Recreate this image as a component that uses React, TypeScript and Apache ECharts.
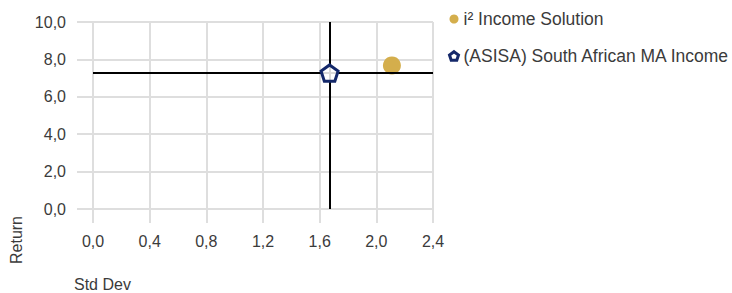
import React, { useEffect, useRef } from "react";
import * as echarts from "echarts";

const seriesNames = ["i² Income Solution", "(ASISA) South African MA Income"];
const stdDev = [2.11, 1.67];
const returns = [7.68, 7.27];
const xTicks = { min: 0, max: 2.4, interval: 0.4 };
const yTicks = { min: 0, max: 10, interval: 2 };
const crossX = 1.67;
const crossY = 7.27;

const FONT = "'Liberation Sans', Arial, sans-serif";
const TEXT = "#3b3b3b";
const GRID = "#dedede";
const GOLD = "#D4AE4C";
const NAVY = "#14286A";
const PENTAGON = "path://M50,0 L97.55,34.55 L79.39,90.45 L20.61,90.45 L2.45,34.55 Z";

const fmt = (v: number) => v.toFixed(1).replace(".", ",");

export default function App() {
  const ref = useRef<HTMLDivElement>(null);
  useEffect(() => {
    if (!ref.current) return;
    const chart = echarts.init(ref.current, undefined, { renderer: "svg" });
    chart.setOption({
      animation: false,
      backgroundColor: "#fff",
      textStyle: { fontFamily: FONT },
      grid: { left: 93, top: 22, width: 340, height: 187 },
      xAxis: {
        type: "value",
        min: xTicks.min,
        max: xTicks.max,
        interval: xTicks.interval,
        axisLine: { show: false },
        axisTick: { show: true, length: 14, lineStyle: { color: GRID, width: 2 } },
        splitLine: { show: true, lineStyle: { color: GRID, width: 2 } },
        axisLabel: { margin: 24, fontSize: 16, color: TEXT, fontFamily: FONT, formatter: fmt },
      },
      yAxis: {
        type: "value",
        min: yTicks.min,
        max: yTicks.max,
        interval: yTicks.interval,
        axisLine: { show: false },
        axisTick: { show: true, length: 16, lineStyle: { color: GRID, width: 2 } },
        splitLine: { show: true, lineStyle: { color: GRID, width: 2 } },
        axisLabel: { margin: 27, fontSize: 16, color: TEXT, fontFamily: FONT, formatter: fmt },
      },
      legend: {
        orient: "vertical",
        left: 448,
        top: 9,
        padding: 0,
        itemWidth: 9,
        itemHeight: 9,
        itemGap: 17,
        textStyle: { fontSize: 17.5, color: TEXT, fontFamily: FONT, lineHeight: 20 },
        data: [
          { name: seriesNames[0], icon: "circle", itemStyle: { color: GOLD } },
          {
            name: seriesNames[1],
            icon: PENTAGON,
            itemStyle: { color: "#fff", borderColor: NAVY, borderWidth: 3 },
          },
        ],
      },
      graphic: [
        {
          type: "text",
          x: 16,
          y: 240,
          rotation: Math.PI / 2,
          style: {
            text: "Return",
            fontSize: 16,
            fill: TEXT,
            fontFamily: FONT,
            align: "center",
            verticalAlign: "middle",
          },
        },
        {
          type: "text",
          x: 74,
          y: 284,
          style: {
            text: "Std Dev",
            fontSize: 16,
            fill: TEXT,
            fontFamily: FONT,
            align: "left",
            verticalAlign: "middle",
          },
        },
      ],
      series: [
        {
          name: seriesNames[0],
          type: "scatter",
          z: 2,
          symbol: "circle",
          symbolSize: 18,
          itemStyle: { color: GOLD, opacity: 1 },
          data: [[stdDev[0], returns[0]]],
          markLine: {
            silent: true,
            symbol: "none",
            label: { show: false },
            lineStyle: { color: "#000", width: 2, type: "solid" },
            data: [{ xAxis: crossX }, { yAxis: crossY }],
          },
        },
        {
          name: seriesNames[1],
          type: "scatter",
          z: 5,
          symbol: PENTAGON,
          symbolKeepAspect: true,
          symbolSize: 17,
          itemStyle: { color: "rgba(255,255,255,0.85)", borderColor: NAVY, borderWidth: 3, opacity: 1 },
          data: [[stdDev[1], returns[1]]],
        },
      ],
    });
    return () => chart.dispose();
  }, []);
  return (
    <div
      ref={ref}
      style={{ position: "fixed", left: 0, top: 0, width: 732, height: 293 }}
    />
  );
}
